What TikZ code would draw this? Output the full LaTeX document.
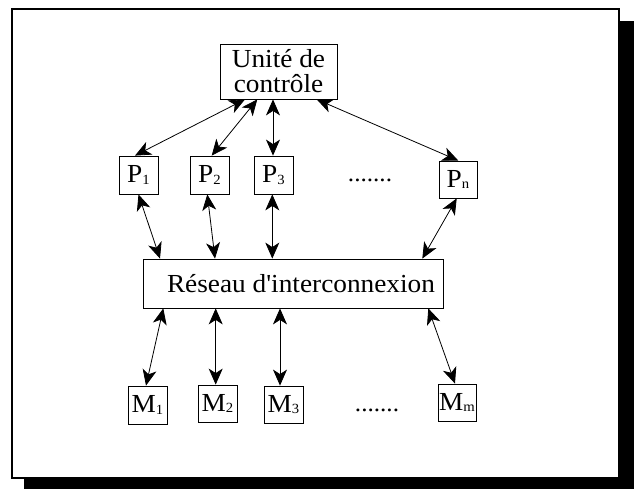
\documentclass[tikz,border=0pt]{standalone}
\usepackage{fontspec}
% plain family (no TeX ligature mapping, so the apostrophe stays straight)
\newfontfamily\diagfont{Liberation Serif}[FakeStretch=1.05]
\usetikzlibrary{arrows.meta}
% small lowered index after a letter
\newcommand{\idx}[1]{\raisebox{-1.5pt}{\fontsize{14}{14}\selectfont #1}}
\tikzset{
  unit/.style={draw=black, line width=0.8pt, fill=white, inner sep=0pt,
               font=\diagfont\fontsize{26}{25}\selectfont},
  smallbox/.style={unit, minimum width=39pt, minimum height=38pt},
  biarrow/.style={line width=0.8pt, {Stealth[length=16pt,width=14pt,inset=4.5pt]}-{Stealth[length=16pt,width=14pt,inset=4.5pt]}},
  dotsrow/.style={inner sep=0pt, font=\diagfont\fontsize{24}{25}\selectfont, anchor=base}
}
\begin{document}
\begin{tikzpicture}[x=1pt, y=-1pt]
\useasboundingbox (0,0) rectangle (638,489);
% framed sheet with its drop shadow
\fill[black] (24,21) rectangle (634,489);
\draw[line width=1.7pt, fill=white] (12,9) rectangle (619,478);

% control unit
\node[unit, minimum width=117pt, minimum height=55pt, align=center]
  (ctrl) at (278.5,71.5) {Unité de\\contrôle};

% processors
\node[smallbox] (P1) at (138.5,175) {P\idx{1}};
\node[smallbox] (P2) at (209.5,175) {P\idx{2}};
\node[smallbox] (P3) at (273.5,175) {P\idx{3}};
\node[smallbox, minimum width=38pt, minimum height=37pt] (Pn) at (458,179.5) {P\idx{n}};
\node[dotsrow] (pdots) at (370,182) {.......};

% interconnection network
\node[unit, minimum width=300pt, minimum height=49pt]
  (net) at (293,283.5) {\hspace*{16pt}Réseau d'interconnexion};

% memories
\node[smallbox] (M1) at (147.5,405) {M\idx{1}};
\node[smallbox, minimum height=37pt] (M2) at (217.5,403.5) {M\idx{2}};
\node[smallbox, minimum height=37pt] (M3) at (283.5,404.5) {M\idx{3}};
\node[smallbox, minimum width=38pt, minimum height=37pt] (Mm) at (457,402.5) {M\idx{m}};
\node[dotsrow] (mdots) at (377,411) {.......};

% control unit <-> processors
\draw[biarrow] ([xshift=-33.5pt]ctrl.south) -- ([xshift=-3.5pt]P1.north);
\draw[biarrow] ([xshift=-21.2pt]ctrl.south) -- ([xshift=2.2pt]P2.north);
\draw[biarrow] ([xshift=-5.5pt]ctrl.south) -- ([xshift=-0.5pt]P3.north);
\draw[biarrow] ([xshift=38.2pt]ctrl.south) -- ([xshift=0.3pt]Pn.north);

% processors <-> network
\draw[biarrow] (P1.south) -- ([xshift=-133pt]net.north);
\draw[biarrow] ([xshift=-2.2pt]P2.south) -- ([xshift=-78pt]net.north);
\draw[biarrow] ([xshift=-1.2pt]P3.south) -- ([xshift=-20.7pt]net.north);
\draw[biarrow] ([xshift=-1.3pt]Pn.south) -- ([xshift=129.3pt]net.north);

% network <-> memories
\draw[biarrow] ([xshift=-129.7pt]net.south) -- ([xshift=-1.5pt]M1.north);
\draw[biarrow] ([xshift=-77.3pt]net.south) -- ([xshift=-1.8pt]M2.north);
\draw[biarrow] ([xshift=-13pt]net.south) -- ([xshift=-3.5pt]M3.north);
\draw[biarrow] ([xshift=135.3pt]net.south) -- ([xshift=-2pt]Mm.north);
\end{tikzpicture}
\end{document}
